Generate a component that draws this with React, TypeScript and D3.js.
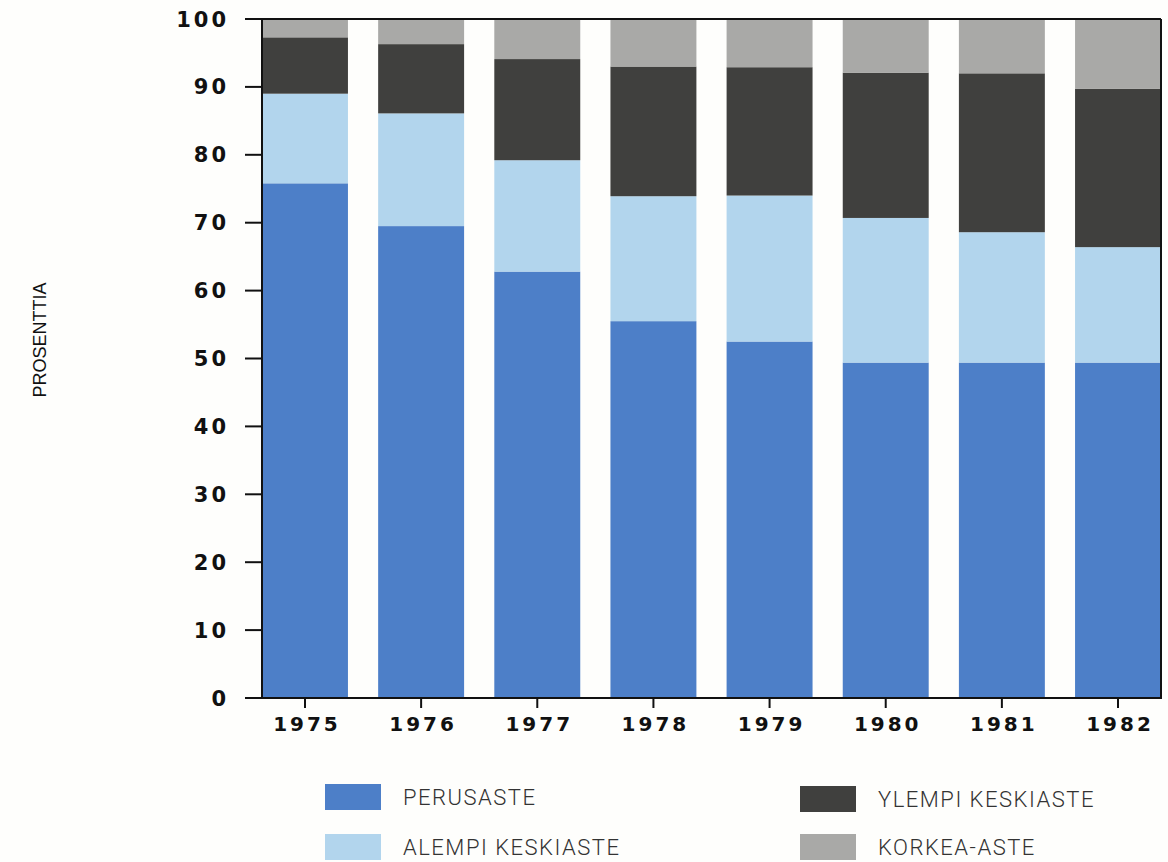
import React from "react";
import * as d3 from "d3";

const years = ["1975", "1976", "1977", "1978", "1979", "1980", "1981", "1982"];
const perusaste = [75.8, 69.5, 62.8, 55.5, 52.5, 49.4, 49.4, 49.4];
const alempiKeskiaste = [13.2, 16.6, 16.4, 18.4, 21.5, 21.3, 19.2, 17.0];
const ylempiKeskiaste = [8.3, 10.2, 14.9, 19.1, 18.9, 21.4, 23.4, 23.3];
const korkeaAste = [2.7, 3.7, 5.9, 7.0, 7.1, 7.9, 8.0, 10.3];
const seriesKeys = ["PERUSASTE", "ALEMPI KESKIASTE", "YLEMPI KESKIASTE", "KORKEA-ASTE"];
const seriesColors = ["#4d7fc8", "#b2d5ed", "#40403e", "#a9a9a7"];
const yTicks = [0, 10, 20, 30, 40, 50, 60, 70, 80, 90, 100];

const W = 1168, H = 862;
const left = 262, right = 1161, top = 19, bottom = 698;

export default function App() {
  const x = d3.scaleBand<string>().domain(years).range([left, right]).paddingInner(0.26).paddingOuter(0);
  const y = d3.scaleLinear().domain([0, 100]).range([bottom, top]);
  const table = years.map((yr, i) => ({
    year: yr,
    [seriesKeys[0]]: perusaste[i],
    [seriesKeys[1]]: alempiKeskiaste[i],
    [seriesKeys[2]]: ylempiKeskiaste[i],
    [seriesKeys[3]]: korkeaAste[i],
  }));
  const stacked = d3.stack<any>().keys(seriesKeys)(table);

  const legendPos = [
    { x: 325, y: 784 },
    { x: 325, y: 834 },
    { x: 800, y: 786 },
    { x: 800, y: 834 },
  ];

  return (
    <svg width={W} height={H} style={{ position: "absolute", left: 0, top: 0, background: "#fefefc" }}>
      <rect x={0} y={0} width={W} height={H} fill="#fefefc" />
      {stacked.map((s, si) => (
        <g key={s.key} fill={seriesColors[si]}>
          {s.map((d, i) => (
            <rect
              key={i}
              x={x(years[i])}
              width={x.bandwidth()}
              y={y(d[1])}
              height={y(d[0]) - y(d[1])}
            />
          ))}
        </g>
      ))}
      {/* frame */}
      <line x1={245} x2={right} y1={top} y2={top} stroke="#111" strokeWidth={2} />
      <line x1={right} x2={right} y1={top} y2={bottom} stroke="#111" strokeWidth={2} />
      <line x1={left} x2={left} y1={top} y2={bottom} stroke="#111" strokeWidth={2} />
      <line x1={245} x2={right + 1} y1={bottom} y2={bottom} stroke="#111" strokeWidth={2} />
      {/* y ticks */}
      {yTicks.map((t) => (
        <g key={t}>
          <line x1={245} x2={left} y1={y(t)} y2={y(t)} stroke="#111" strokeWidth={2} />
          <text
            x={229}
            y={y(t)}
            dy="0.36em"
            textAnchor="end"
            fontFamily="DejaVu Sans"
            fontWeight="bold"
            fontSize={21}
            letterSpacing={3}
            fill="#111"
          >
            {t}
          </text>
        </g>
      ))}
      {/* x ticks */}
      {years.map((yr) => {
        const cx = (x(yr) as number) + x.bandwidth() / 2;
        return (
          <g key={yr}>
            <line x1={cx} x2={cx} y1={bottom} y2={bottom + 10} stroke="#111" strokeWidth={2} />
            <text
              x={cx + 2}
              y={731}
              textAnchor="middle"
              fontFamily="DejaVu Sans"
              fontWeight="bold"
              fontSize={20}
              letterSpacing={3}
              fill="#111"
            >
              {yr}
            </text>
          </g>
        );
      })}
      <text
        transform="translate(46,340) rotate(-90)"
        textAnchor="middle"
        fontFamily="Liberation Sans, Arial"
        fontSize={18}
        fill="#111"
      >
        PROSENTTIA
      </text>
      {seriesKeys.map((k, i) => (
        <g key={k}>
          <rect x={legendPos[i].x} y={legendPos[i].y} width={56} height={26} fill={seriesColors[i]} />
          <text
            x={legendPos[i].x + 78}
            y={legendPos[i].y + 21}
            fontFamily="Roboto, DejaVu Sans"
            fontWeight={300}
            fontSize={22}
            letterSpacing={1.5}
            fill="#333"
          >
            {k}
          </text>
        </g>
      ))}
    </svg>
  );
}
